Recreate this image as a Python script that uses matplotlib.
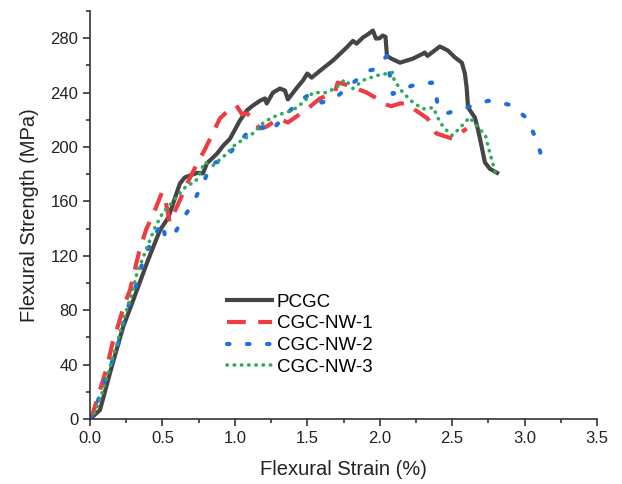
import matplotlib.pyplot as plt
from matplotlib.ticker import MultipleLocator, FormatStrFormatter

plt.rcParams['font.family'] = ['Liberation Sans', 'DejaVu Sans']

# PCGC
pcgc_x = [0.0, 0.069, 0.138, 0.228, 0.297, 0.40, 0.483, 0.54, 0.565, 0.62, 0.655, 0.69,
          0.74, 0.78, 0.807, 0.876, 0.92, 0.966, 1.035, 1.083, 1.125, 1.173, 1.208, 1.22,
          1.263, 1.311, 1.346, 1.366, 1.43, 1.47, 1.50, 1.53, 1.587, 1.677, 1.77, 1.815,
          1.84, 1.884, 1.92, 1.953, 1.974, 2.0, 2.02, 2.04, 2.05, 2.08, 2.14, 2.23, 2.30,
          2.31, 2.33, 2.415, 2.47, 2.52, 2.567, 2.588, 2.60, 2.61, 2.657, 2.68, 2.705,
          2.726, 2.76, 2.81]
pcgc_y = [0.0, 6.6, 33.8, 67.5, 87, 116.7, 138.8, 148, 155.7, 173, 177.7, 179,
          181, 180.6, 188, 195, 201, 206, 219.5, 226.9, 230.5, 234, 235.7, 232,
          240, 243, 241.5, 235, 243.8, 248.9, 254, 251, 256, 263.6, 273, 278,
          276, 280.5, 283, 285.6, 279.7, 280, 282, 281, 267, 265, 262, 265, 268.7,
          269.5, 267, 273.9, 271, 265.8, 262, 254, 243.8, 229, 221.7, 212, 199.7,
          188.7, 184, 181]

# CGC-NW-1
nw1_x = [0.0, 0.02, 0.09, 0.117, 0.16, 0.19, 0.24, 0.276, 0.32, 0.345, 0.39, 0.435,
         0.497, 0.517, 0.55, 0.62, 0.67, 0.74, 0.79, 0.897, 0.966, 1.01, 1.05, 1.083,
         1.118, 1.17, 1.22, 1.30, 1.366, 1.50, 1.587, 1.69, 1.71, 1.76, 1.84, 1.91,
         1.98, 2.015, 2.08, 2.14, 2.19, 2.24, 2.33, 2.39, 2.505, 2.60]
nw1_y = [0.0, 4.4, 28.6, 38, 58, 67.5, 85, 94.7, 114.5, 125.5, 140, 150,
         166.7, 163, 144.6, 160.8, 173, 188, 197.5, 221, 228, 230.5, 224, 224.7,
         221.7, 213.6, 215, 221, 218, 228, 235.7, 240, 247.4, 246, 243, 240,
         235.7, 232, 230, 232, 232, 227.6, 221, 210, 206, 213.6]

# CGC-NW-2
nw2_x = [0.0, 0.02, 0.069, 0.124, 0.186, 0.22, 0.262, 0.324, 0.366, 0.428, 0.497, 0.517,
         0.566, 0.635, 0.70, 0.78, 0.84, 0.92, 1.0, 1.10, 1.19, 1.24, 1.33, 1.435,
         1.518, 1.60, 1.69, 1.81, 1.92, 1.96, 2.05, 2.07, 2.09, 2.22, 2.36, 2.38,
         2.40, 2.46, 2.60, 2.75, 2.90, 3.01, 3.08, 3.13]
nw2_y = [0.0, 3, 17.6, 34.5, 50.7, 66.8, 82.2, 99.8, 116.7, 131.4, 144.6, 135,
         132.9, 146, 157, 173, 188, 190, 200, 212, 214.5, 210.7, 221, 232.7,
         239, 232.7, 235.7, 246.7, 256, 257, 267, 252.6, 239, 245, 247.4, 245,
         230.5, 224.7, 229, 234, 231, 221.7, 206, 188.7]

# CGC-NW-3
nw3_x = [0.0, 0.035, 0.09, 0.138, 0.193, 0.24, 0.29, 0.324, 0.393, 0.449, 0.504, 0.566,
         0.62, 0.67, 0.725, 0.76, 0.79, 0.85, 0.93, 1.01, 1.05, 1.125, 1.187, 1.256,
         1.33, 1.40, 1.47, 1.54, 1.635, 1.70, 1.76, 1.815, 1.884, 1.98, 2.05, 2.09,
         2.10, 2.16, 2.23, 2.30, 2.37, 2.40, 2.44, 2.50, 2.55, 2.62, 2.68, 2.73,
         2.75, 2.775, 2.80]
nw3_y = [0.0, 5, 21, 38, 58, 76, 92.5, 107, 126, 141, 152, 159,
         166, 171.8, 174, 181, 188.7, 186.5, 193.8, 202.6, 204.8, 210, 217, 221.7,
         224.7, 227, 232.7, 240, 240, 243.8, 249.6, 243, 249, 252.6, 254, 254.8,
         249, 240, 232.7, 228, 229, 221.7, 214.4, 208.5, 213.6, 221.7, 214.4, 208.5,
         199.7, 190, 180.6]

fig = plt.figure(figsize=(6.22, 4.84), dpi=100)
ax = fig.add_axes([90 / 622, 65 / 484, 507 / 622, 408 / 484])

ax.plot(pcgc_x, pcgc_y, color='#454545', lw=3, solid_joinstyle='round', label='PCGC')
ax.plot(nw1_x, nw1_y, color='#ee3d42', lw=3, dashes=(4.5, 3), label='CGC-NW-1')
ax.plot(nw2_x, nw2_y, color='#1f6ee0', lw=3, dashes=(0.6, 4.2), dash_capstyle='round',
        label='CGC-NW-2')
ax.plot(nw3_x, nw3_y, color='#2eaa5c', lw=2.6, dashes=(0.1, 1.9), dash_capstyle='round',
        label='CGC-NW-3')

ax.set_xlim(0, 3.5)
ax.set_ylim(0, 300)
ax.xaxis.set_major_locator(MultipleLocator(0.5))
ax.xaxis.set_minor_locator(MultipleLocator(0.25))
ax.xaxis.set_major_formatter(FormatStrFormatter('%.1f'))
ax.set_yticks(range(0, 281, 40))
ax.yaxis.set_minor_locator(MultipleLocator(20))
ax.spines['top'].set_visible(False)
ax.spines['right'].set_visible(False)
for s in ['left', 'bottom']:
    ax.spines[s].set_linewidth(1.2)
    ax.spines[s].set_color('#333333')
ax.tick_params(which='major', direction='out', length=5, width=1.2, labelsize=12,
               colors='#333333', labelcolor='#222222')
ax.tick_params(which='minor', direction='out', length=3, width=1.2, colors='#333333')

ax.set_xlabel('Flexural Strain (%)', fontsize=14.5, color='#222222', labelpad=10)
ax.set_ylabel('Flexural Strength (MPa)', fontsize=14.5, color='#222222', labelpad=8)

ax.legend(loc='upper left', bbox_to_anchor=(0.244, 0.34), frameon=False, fontsize=13.5,
          handlelength=2.4, handletextpad=0.25, labelspacing=0.25, borderpad=0.2)

fig.savefig('out.png', dpi=100)
